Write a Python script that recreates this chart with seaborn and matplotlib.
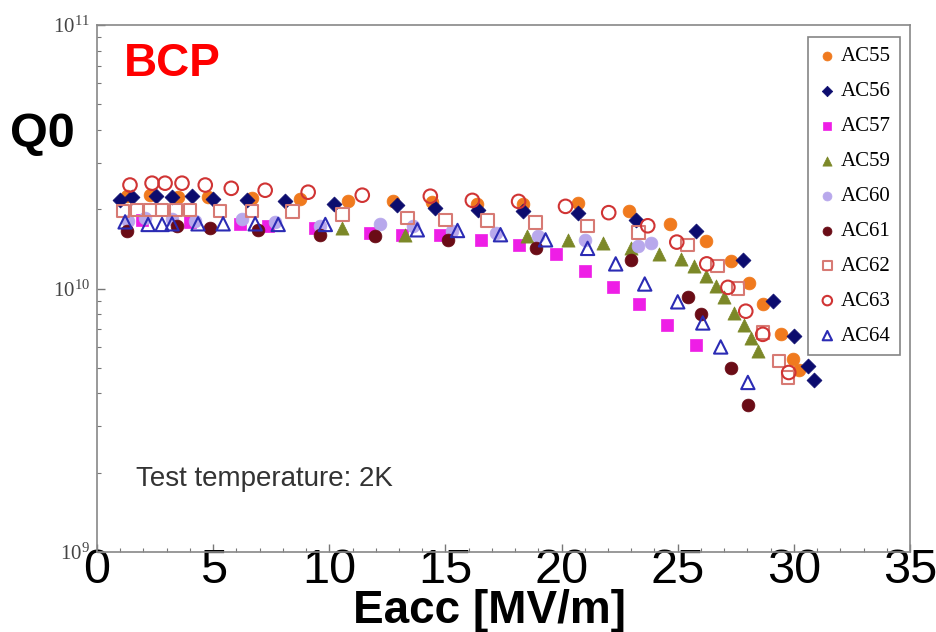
import numpy as np
import matplotlib
matplotlib.use("Agg")
import matplotlib.pyplot as plt
import matplotlib.transforms as mtransforms
import seaborn as sns
from matplotlib.ticker import FixedLocator, MultipleLocator, LogLocator, NullFormatter
from matplotlib.font_manager import FontProperties

# ---- data (Eacc in MV/m, Q0 in units of 1e10) ----
ac55_e = [1.29, 2.28, 3.49, 4.78, 6.68, 8.75, 10.82, 12.76, 14.44, 16.34, 18.32, 20.69,
          22.89, 24.66, 26.21, 27.28, 28.06, 28.66, 29.44, 29.96, 30.22]
ac55_q = [2.24, 2.26, 2.22, 2.22, 2.20, 2.19, 2.15, 2.15, 2.13, 2.09, 2.09, 2.11,
          1.97, 1.76, 1.52, 1.27, 1.05, 0.87, 0.67, 0.54, 0.49]

ac56_e = [0.99, 1.51, 2.54, 3.23, 4.09, 5.00, 6.47, 8.10, 10.22, 12.93, 14.57, 16.42, 18.36,
          20.69, 23.19, 25.78, 27.80, 29.09, 30.00, 30.60, 30.86]
ac56_q = [2.17, 2.22, 2.24, 2.22, 2.24, 2.19, 2.17, 2.15, 2.09, 2.07, 2.02, 1.99, 1.97,
          1.94, 1.82, 1.66, 1.28, 0.90, 0.66, 0.51, 0.45]

ac57_e = [1.94, 4.01, 6.16, 7.37, 9.40, 11.77, 13.15, 14.78, 16.51, 18.15, 19.74, 21.03,
          22.20, 23.32, 24.53, 25.78]
ac57_q = [1.82, 1.79, 1.75, 1.73, 1.70, 1.63, 1.60, 1.60, 1.53, 1.46, 1.35, 1.17,
          1.01, 0.875, 0.73, 0.61]

ac59_e = [10.56, 13.28, 18.53, 20.26, 21.77, 22.97, 24.18, 25.13, 25.69, 26.21, 26.64,
          26.98, 27.41, 27.84, 28.15, 28.45]
ac59_q = [1.70, 1.60, 1.58, 1.53, 1.49, 1.42, 1.35, 1.29, 1.22, 1.12, 1.02,
          0.93, 0.81, 0.73, 0.65, 0.58]

ac60_e = [1.34, 2.07, 3.23, 4.22, 6.25, 7.67, 9.61, 12.20, 13.62, 15.30, 17.16, 18.97,
          21.03, 23.28, 23.84]
ac60_q = [1.80, 1.85, 1.83, 1.80, 1.83, 1.79, 1.73, 1.75, 1.73, 1.66, 1.63, 1.58,
          1.53, 1.45, 1.49]

ac61_e = [1.29, 3.45, 4.87, 6.94, 9.61, 11.98, 15.09, 18.88, 22.97, 25.43, 25.99, 27.28, 28.02]
ac61_q = [1.66, 1.72, 1.70, 1.67, 1.60, 1.58, 1.53, 1.43, 1.28, 0.93, 0.80, 0.50, 0.36]

ac62_e = [1.12, 1.72, 2.28, 2.80, 3.41, 4.01, 5.30, 6.68, 8.41, 10.56, 13.36, 15.00, 16.81,
          18.88, 21.12, 23.32, 25.43, 26.72, 27.59, 28.66, 29.35, 29.74]
ac62_q = [1.97, 1.99, 1.99, 1.99, 1.99, 1.99, 1.97, 1.97, 1.96, 1.91, 1.85, 1.82, 1.81,
          1.78, 1.73, 1.63, 1.46, 1.22, 1.00, 0.68, 0.53, 0.46]

ac63_e = [1.42, 2.37, 2.93, 3.66, 4.66, 5.78, 7.24, 9.09, 11.42, 14.35, 16.16, 18.15, 20.17,
          22.03, 23.71, 24.96, 26.25, 27.16, 27.93, 28.66, 29.78]
ac63_q = [2.47, 2.51, 2.51, 2.51, 2.47, 2.40, 2.36, 2.32, 2.26, 2.24, 2.16, 2.14, 2.05,
          1.94, 1.73, 1.50, 1.24, 1.01, 0.82, 0.67, 0.48]

ac64_e = [1.21, 2.20, 2.80, 3.23, 4.35, 5.43, 6.81, 7.80, 9.83, 13.79, 15.52, 17.37, 19.31,
          21.12, 22.33, 23.58, 25.00, 26.08, 26.85, 28.02]
ac64_q = [1.79, 1.75, 1.75, 1.76, 1.76, 1.76, 1.76, 1.75, 1.75, 1.67, 1.66, 1.60, 1.53,
          1.42, 1.24, 1.04, 0.89, 0.74, 0.60, 0.44]

names = ["AC55", "AC56", "AC57", "AC59", "AC60", "AC61", "AC62", "AC63", "AC64"]
x_ticks = [0, 5, 10, 15, 20, 25, 30, 35]

# ---- style ----
sns.set_theme(style="white")
plt.rcParams["font.family"] = ["Liberation Sans", "DejaVu Sans"]
plt.rcParams["text.color"] = "black"

fig = plt.figure(figsize=(9.36, 6.32), dpi=100)
fig.patch.set_facecolor("white")
ax = fig.add_axes([97 / 936, 1 - 552 / 632, (910 - 97) / 936, (552 - 25) / 632])
ax.set_facecolor("white")

series = [
    (ac55_e, ac55_q, "o", True, "#f07a1e", 85),
    (ac56_e, ac56_q, "D", True, "#0c0c6e", 58),
    (ac57_e, ac57_q, "s", True, "#ee1ee6", 68),
    (ac59_e, ac59_q, "^", True, "#7c8828", 90),
    (ac60_e, ac60_q, "o", True, "#b8a8ec", 85),
    (ac61_e, ac61_q, "o", True, "#6a0c16", 85),
    (ac62_e, ac62_q, "s", False, "#d77a74", 80),
    (ac63_e, ac63_q, "o", False, "#d03434", 95),
    (ac64_e, ac64_q, "^", False, "#2b2bb4", 92),
]

for name, (e, q, m, filled, c, s) in zip(names, series):
    qv = np.array(q) * 1e10
    if filled:
        sns.scatterplot(x=np.array(e), y=qv, marker=m, s=s, color=c, edgecolor=c,
                        linewidth=0.5, label=name, ax=ax)
    else:
        sns.scatterplot(x=np.array(e), y=qv, marker=m, s=s, facecolor="none",
                        edgecolor=c, linewidth=1.5, label=name, ax=ax)

ax.set_yscale("log")
ax.set_ylim(1e9, 1e11)
ax.set_xlim(0, 35)

ax.xaxis.set_major_locator(FixedLocator(x_ticks))
ax.xaxis.set_minor_locator(MultipleLocator(1))
ax.set_xticklabels([str(t) for t in x_ticks], fontsize=35, color="black")
ax.yaxis.set_major_locator(FixedLocator([1e9, 1e10, 1e11]))
ax.yaxis.set_minor_locator(LogLocator(base=10, subs=np.arange(2, 10)))
ax.yaxis.set_minor_formatter(NullFormatter())
ylabels = ax.set_yticklabels([r"$\mathregular{10^{9}}$", r"$\mathregular{10^{10}}$",
                              r"$\mathregular{10^{11}}$"],
                             fontsize=15, color="#444", family="Liberation Serif")
# nudge the bottom label slightly left so the large "0" does not cover it
ylabels[0].set_transform(ylabels[0].get_transform() +
                         mtransforms.ScaledTranslation(-7 / 100, 0, fig.dpi_scale_trans))

ax.tick_params(axis="x", which="both", direction="in", bottom=True, top=False,
               color="#777", pad=-3)
ax.tick_params(axis="y", which="both", direction="in", left=True, right=False,
               color="#777", pad=5)
ax.tick_params(which="major", length=6, width=1)
ax.tick_params(which="minor", length=3, width=0.8)
for sp in ax.spines.values():
    sp.set_color("#888")
    sp.set_linewidth(1.2)
ax.set_xlabel("")
ax.set_ylabel("")

leg = ax.legend(loc="upper right", bbox_to_anchor=(0.988, 0.977), frameon=True,
                fancybox=False, edgecolor="#666",
                prop=FontProperties(family="Liberation Serif", size=15),
                handletextpad=0.15, labelspacing=0.74, borderpad=0.45,
                markerscale=0.7, handlelength=1.0, borderaxespad=0.0)
leg.get_frame().set_linewidth(1.2)

fig.text(489 / 936, 1 - 611 / 632, "Eacc [MV/m]", fontsize=33, weight="bold",
         ha="center", va="center", color="black")
fig.text(42 / 936, 1 - 134 / 632, "Q0", fontsize=35, weight="bold",
         ha="center", va="center", color="black")
fig.text(172 / 936, 1 - 64 / 632, "BCP", fontsize=33, weight="bold", color="#ff0000",
         ha="center", va="center")
fig.text(136 / 936, 1 - 479 / 632, "Test temperature: 2K", fontsize=20, color="#333",
         ha="left", va="center")

fig.savefig("out.png", dpi=100, facecolor="white")
